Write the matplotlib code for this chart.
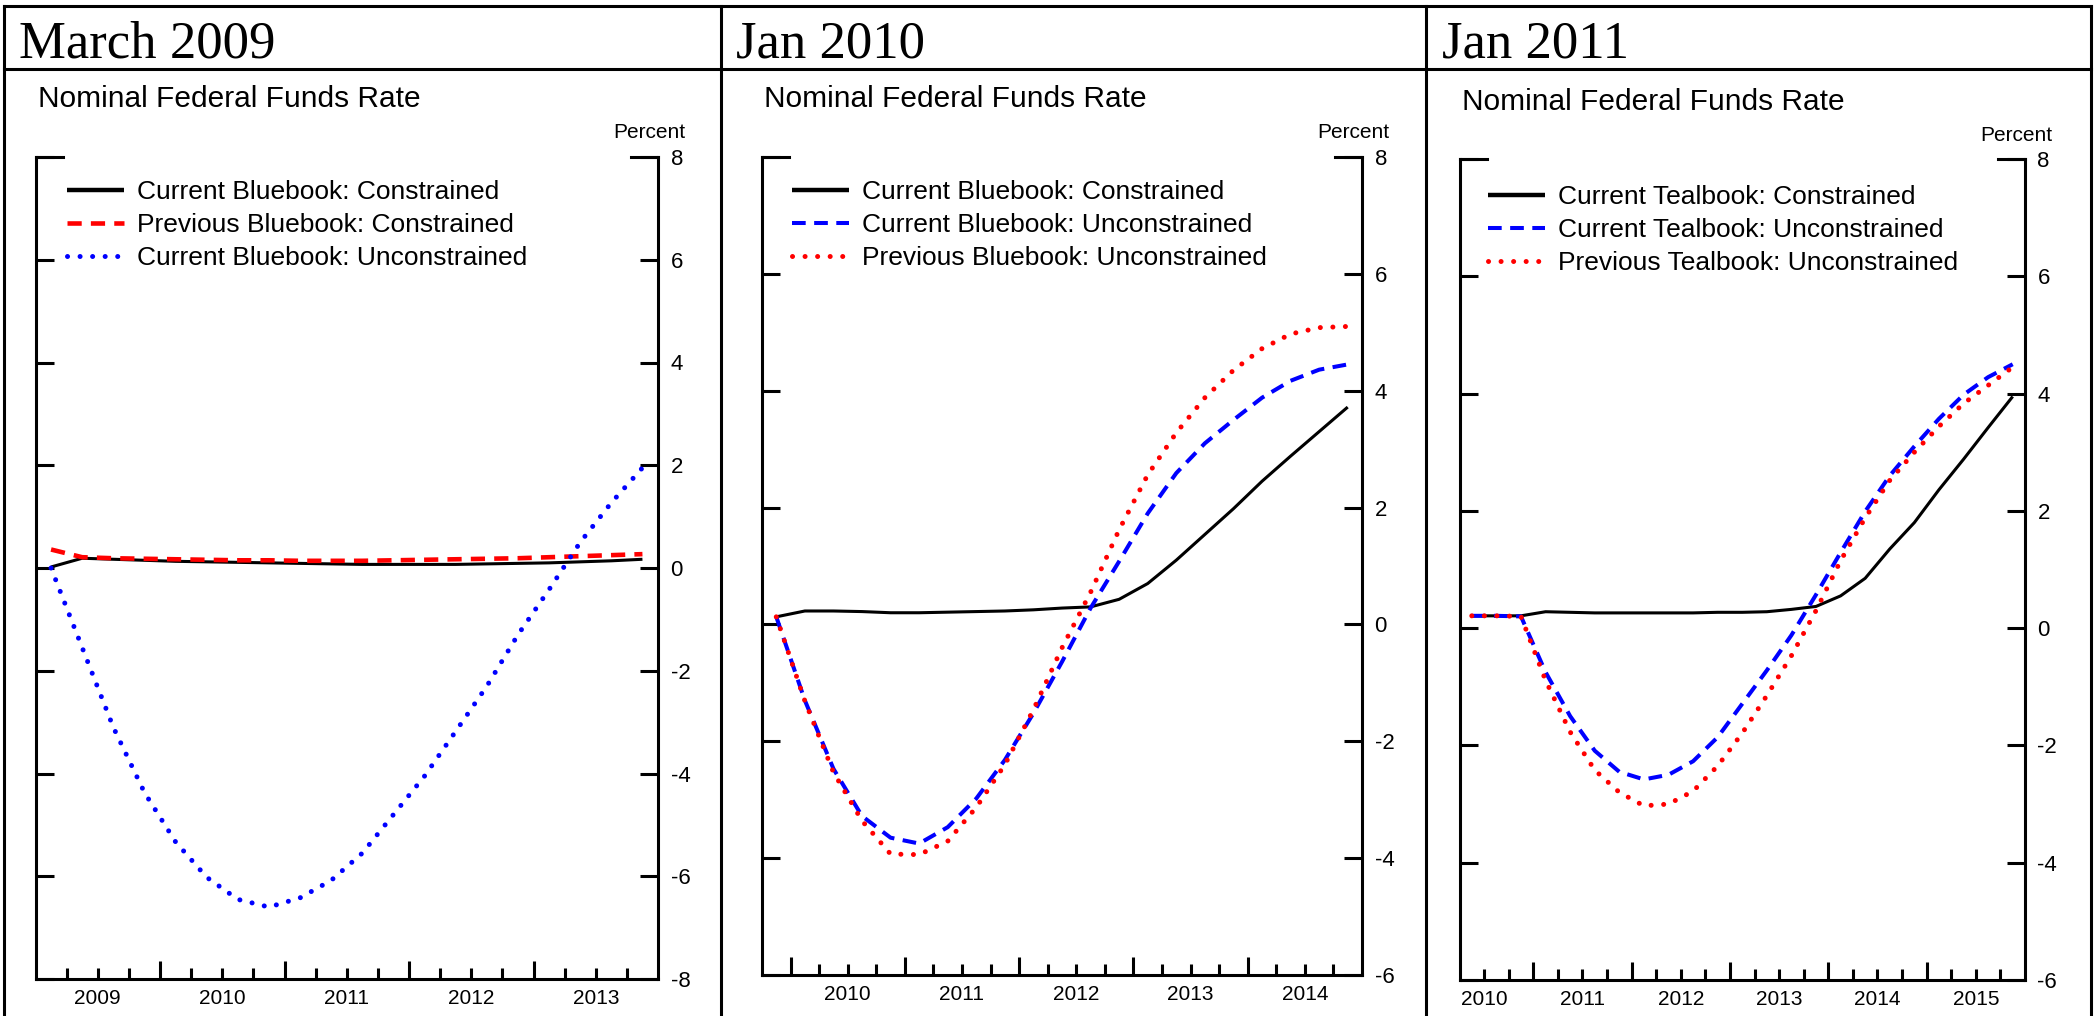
import numpy as np
import pandas as pd
import matplotlib as mpl
import matplotlib.pyplot as plt
from matplotlib.ticker import FixedLocator, FuncFormatter, NullFormatter

mpl.rcParams['font.family'] = 'Liberation Sans'
mpl.rcParams['axes.unicode_minus'] = False

W, H = 2094, 1016

# ---- data: nominal federal funds rate paths, quarterly, percent ----
q_mar09 = pd.period_range('2009Q1', '2013Q4', freq='Q')
q_jan10 = pd.period_range('2009Q4', '2014Q4', freq='Q')
q_jan11 = pd.period_range('2010Q2', '2015Q4', freq='Q')

mar09_cur_con = [0.02, 0.19, 0.17, 0.15, 0.13, 0.12, 0.11, 0.10, 0.09, 0.08,
                 0.07, 0.07, 0.07, 0.07, 0.08, 0.09, 0.10, 0.12, 0.14, 0.17]
mar09_prev_con = [0.36, 0.21, 0.19, 0.18, 0.17, 0.16, 0.15, 0.15, 0.14, 0.14,
                  0.14, 0.15, 0.16, 0.17, 0.18, 0.19, 0.21, 0.23, 0.25, 0.27]
mar09_cur_unc = [0.00, -1.55, -3.10, -4.37, -5.33, -6.02, -6.45, -6.60, -6.42, -6.08,
                 -5.55, -4.80, -4.05, -3.18, -2.30, -1.30, -0.42, 0.50, 1.27, 1.95]

jan10_cur_con = [0.13, 0.23, 0.23, 0.22, 0.20, 0.20, 0.21, 0.22, 0.23, 0.25, 0.28,
                 0.30, 0.43, 0.70, 1.10, 1.54, 1.98, 2.45, 2.88, 3.30, 3.72]
jan10_cur_unc = [0.13, -1.30, -2.47, -3.28, -3.65, -3.75, -3.47, -2.98, -2.32, -1.52, -0.64,
                 0.28, 1.08, 1.90, 2.59, 3.10, 3.50, 3.88, 4.17, 4.36, 4.45]
jan10_prev_unc = [0.13, -1.31, -2.53, -3.36, -3.93, -3.94, -3.71, -3.13, -2.40, -1.46, -0.40,
                  0.55, 1.62, 2.56, 3.28, 3.88, 4.35, 4.72, 4.97, 5.08, 5.10]

jan11_cur_con = [0.21, 0.21, 0.21, 0.28, 0.27, 0.26, 0.26, 0.26, 0.26, 0.26, 0.27, 0.27,
                 0.28, 0.32, 0.37, 0.55, 0.85, 1.35, 1.80, 2.36, 2.88, 3.42, 3.95]
jan11_cur_unc = [0.21, 0.21, 0.20, -0.75, -1.50, -2.09, -2.45, -2.58, -2.50, -2.27, -1.86, -1.29,
                 -0.72, -0.12, 0.57, 1.29, 1.99, 2.60, 3.10, 3.57, 3.98, 4.28, 4.50]
jan11_prev_unc = [0.21, 0.21, 0.20, -0.89, -1.77, -2.42, -2.80, -3.03, -3.00, -2.78, -2.35, -1.79,
                  -1.15, -0.47, 0.30, 1.15, 1.88, 2.52, 3.00, 3.44, 3.83, 4.14, 4.45]

headers = ['March 2009', 'Jan 2010', 'Jan 2011']
chart_title = 'Nominal Federal Funds Rate'
labels_mar09 = ['Current Bluebook: Constrained', 'Previous Bluebook: Constrained',
                'Current Bluebook: Unconstrained']
labels_jan10 = ['Current Bluebook: Constrained', 'Current Bluebook: Unconstrained',
                'Previous Bluebook: Unconstrained']
labels_jan11 = ['Current Tealbook: Constrained', 'Current Tealbook: Unconstrained',
                'Previous Tealbook: Unconstrained']


def mid_quarter(periods):
    return np.array([p.year + (p.quarter - 0.5) / 4.0 for p in periods])


# ---- line styles ----
BLACK = dict(color='black', lw=2.2, solid_capstyle='butt')
RED_DASH = dict(color='#ff0000', lw=3.3, linestyle=(0, (3.1, 2.0)))
BLUE_DASH = dict(color='#0000ff', lw=2.9, linestyle=(0, (3.4, 2.1)))
DOT = dict(lw=3.6, linestyle=(0, (0.01, 2.5)), dash_capstyle='round')
BLUE_DOT = dict(color='#0000ff', **DOT)
RED_DOT = dict(color='#ff0000', **DOT)

panels = [
    dict(box=(35.5, 157, 658, 979), xlim=(2009.0, 2014.0), ylim=(-8, 8),
         header=headers[0], hx=19, tx=38, ty=107, py=138, legxy=(67, 180),
         series=[(q_mar09, mar09_cur_con, BLACK), (q_mar09, mar09_prev_con, RED_DASH),
                 (q_mar09, mar09_cur_unc, BLUE_DOT)],
         labels=labels_mar09),
    dict(box=(762, 157, 1362, 975), xlim=(2009.75, 2015.0), ylim=(-6, 8),
         header=headers[1], hx=736, tx=764, ty=107, py=138, legxy=(792, 180),
         series=[(q_jan10, jan10_cur_con, BLACK), (q_jan10, jan10_cur_unc, BLUE_DASH),
                 (q_jan10, jan10_prev_unc, RED_DOT)],
         labels=labels_jan10),
    dict(box=(1459.5, 159, 2025, 980), xlim=(2010.25, 2016.0), ylim=(-6, 8),
         header=headers[2], hx=1442, tx=1462, ty=110, py=141, legxy=(1488, 185),
         series=[(q_jan11, jan11_cur_con, BLACK), (q_jan11, jan11_cur_unc, BLUE_DASH),
                 (q_jan11, jan11_prev_unc, RED_DOT)],
         labels=labels_jan11),
]

fig = plt.figure(figsize=(W / 100, H / 100), dpi=100)

# page layer in pixel units (y down) for the table rules and headings
bg = fig.add_axes([0, 0, 1, 1], zorder=0)
bg.set_xlim(0, W)
bg.set_ylim(H, 0)
bg.axis('off')

rule = dict(color='black', lw=2.2, solid_capstyle='projecting')
bg.plot([4, 2091], [6, 6], **rule)
bg.plot([4, 2091], [69, 69], **rule)
for xv in (4, 721, 1426, 2091):
    bg.plot([xv, xv], [6, H], **rule)

for p in panels:
    x0, y0, x1, y1 = p['box']
    ax = fig.add_axes([x0 / W, 1 - y1 / H, (x1 - x0) / W, (y1 - y0) / H], zorder=1)
    ax.patch.set_alpha(0)

    for (qs, vals, style), lab in zip(p['series'], p['labels']):
        ax.plot(mid_quarter(qs), vals, label=lab, **style)

    ax.set_xlim(*p['xlim'])
    ax.set_ylim(*p['ylim'])

    # spines: open top, heavy frame
    ax.spines['top'].set_visible(False)
    for s in ('left', 'right', 'bottom'):
        ax.spines[s].set_linewidth(2.2)
        ax.spines[s].set_capstyle('projecting')

    # y axis: ticks inside on both sides, numbers on the right
    ax.yaxis.set_major_locator(FixedLocator(np.arange(p['ylim'][0], p['ylim'][1] + 1, 2)))
    ax.yaxis.set_major_formatter(FuncFormatter(lambda v, pos: '%d' % v))
    ax.tick_params(axis='y', which='major', direction='in', left=True, right=True,
                   labelleft=False, labelright=True, length=13, width=2.2, pad=9,
                   labelsize=16, colors='black')

    # x axis: long ticks at year starts, short quarterly ticks, year names mid-year
    lo, hi = p['xlim']
    years = np.arange(np.ceil(lo), np.floor(hi) + 1)
    years = years[(years > lo) & (years < hi)]
    quarters = np.arange(lo, hi + 0.001, 0.25)
    quarters = quarters[(quarters > lo) & (quarters < hi) & (np.abs(quarters % 1) > 0.01)]
    ax.xaxis.set_major_locator(FixedLocator(years))
    ax.xaxis.set_major_formatter(NullFormatter())
    ax.xaxis.set_minor_locator(FixedLocator(quarters))
    ax.xaxis.set_minor_formatter(FuncFormatter(
        lambda v, pos: '%d' % int(v) if abs(v % 1 - 0.5) < 0.01 else ''))
    ax.tick_params(axis='x', which='major', direction='in', top=False, length=13, width=2.2)
    ax.tick_params(axis='x', which='minor', direction='in', top=False, length=8, width=2.2,
                   pad=7, labelsize=15)

    # cap the top of the frame
    cap = 27.0 / (x1 - x0)
    ax.axhline(p['ylim'][1], 0, cap, color='black', lw=2.2, clip_on=False)
    ax.axhline(p['ylim'][1], 1 - cap, 1, color='black', lw=2.2, clip_on=False)

    leg = ax.legend(loc='upper left', bbox_to_anchor=p['legxy'], bbox_transform=bg.transData,
                    frameon=False, fontsize=19, handlelength=2.16, handletextpad=0.49,
                    labelspacing=0.35, borderpad=0, borderaxespad=0)
    leg.get_lines()[0].set_linewidth(3.2)

    bg.text(p['hx'], 57, p['header'], family='Liberation Serif', fontsize=38,
            va='baseline', ha='left')
    bg.text(p['tx'], p['ty'], chart_title, fontsize=21.5, va='baseline', ha='left')
    bg.text(x1 + 27, p['py'], 'Percent', fontsize=15, va='baseline', ha='right')

fig.savefig('out.png', dpi=100)
